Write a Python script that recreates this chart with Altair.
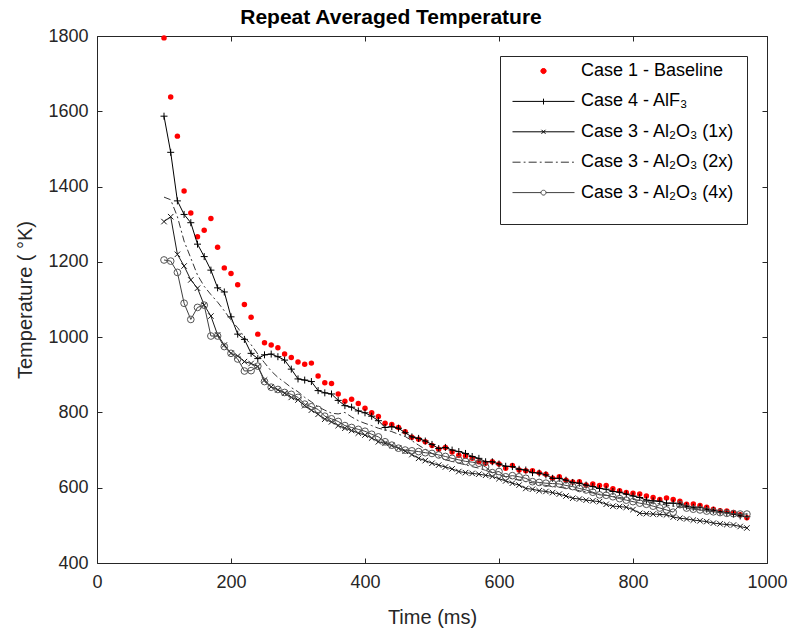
import altair as alt
import pandas as pd

times = [100, 110, 120, 130, 140, 150, 160, 170, 180, 190,
         200, 210, 220, 230, 240, 250, 260, 270, 280, 290,
         300, 310, 320, 330, 340, 350, 360, 370, 380, 390,
         400, 410, 420, 430, 440, 450, 460, 470, 480, 490,
         500, 510, 520, 530, 540, 550, 560, 570, 580, 590,
         600, 610, 620, 630, 640, 650, 660, 670, 680, 690,
         700, 710, 720, 730, 740, 750, 760, 770, 780, 790,
         800, 810, 820, 830, 840, 850, 860, 870, 880, 890,
         900, 910, 920, 930, 940, 950, 960, 970]

baseline = [1795, 1638, 1534, 1388, 1330, 1267, 1284, 1315, 1239, 1184,
            1169, 1139, 1087, 1053, 1008, 985, 979, 972, 955, 946,
            934, 928, 931, 897, 879, 877, 849, 830, 835, 824,
            811, 799, 789, 771, 768, 760, 749, 734, 729, 722,
            712, 702, 707, 695, 686, 684, 678, 669, 665, 669,
            663, 652, 659, 647, 645, 645, 640, 636, 625, 629,
            620, 615, 616, 607, 610, 606, 606, 597, 592, 587,
            585, 583, 578, 574, 569, 573, 569, 564, 556, 557,
            553, 548, 543, 539, 538, 534, 528, 520]

alf3 = [1587, 1491, 1362, 1326, 1304, 1247, 1214, 1178, 1131, 1120,
        1054, 1008, 994, 957, 943, 953, 955, 948, 939, 915,
        889, 886, 882, 858, 852, 849, 832, 818, 814, 804,
        799, 790, 778, 760, 762, 758, 746, 735, 731, 724,
        715, 704, 707, 700, 696, 691, 683, 678, 669, 669,
        663, 657, 656, 649, 647, 640, 639, 634, 625, 625,
        620, 614, 612, 607, 603, 598, 596, 590, 588, 583,
        578, 574, 567, 565, 564, 559, 559, 557, 551, 548,
        548, 543, 540, 536, 534, 530, 525, 523]

al2o3_1x = [1307, 1320, 1220, 1189, 1152, 1130, 1085, 1056, 1006, 979,
            957, 950, 935, 930, 922, 886, 868, 860, 851, 840,
            833, 818, 806, 795, 782, 775, 765, 758, 752, 745,
            740, 732, 722, 718, 712, 705, 697, 688, 678, 672,
            665, 660, 655, 650, 643, 640, 638, 636, 633, 630,
            624, 618, 612, 607, 598, 596, 592, 590, 587, 583,
            578, 572, 570, 567, 565, 563, 556, 551, 550, 548,
            542, 532, 531, 530, 529, 528, 522, 519, 517, 514,
            512, 510, 506, 504, 502, 501, 497, 493]

al2o3_2x = [1372, 1365, 1320, 1255, 1210, 1165, 1135, 1113, 1093, 1070,
            1045, 1025, 1000, 980, 955, 932, 910, 893, 880, 866,
            855, 840, 828, 815, 806, 798, 796, 800, 788, 778,
            771, 765, 758, 754, 749, 742, 736, 725, 713, 702,
            691, 682, 674, 670, 665, 661, 656, 652, 646, 640,
            634, 629, 624, 620, 616, 613, 610, 606, 603, 601,
            599, 596, 592, 589, 586, 583, 580, 577, 574, 571,
            569, 566, 563, 560, 557, 554, 551, 549, 547, 545,
            543, 540, 538, 536, 533, 531, 529, 527]

al2o3_4x = [1205, 1202, 1172, 1090, 1047, 1079, 1085, 1003, 1003, 975,
            957, 942, 910, 911, 923, 882, 867, 861, 853, 848,
            840, 822, 815, 808, 790, 783, 776, 765, 760, 755,
            750, 742, 735, 722, 713, 705, 700, 698, 696, 693,
            691, 687, 683, 678, 674, 670, 668, 665, 655, 640,
            643, 629, 632, 629, 625, 616, 614, 612, 611, 610,
            606, 603, 598, 594, 588, 581, 580, 576, 571, 567,
            563, 559, 556, 551, 546, 541, 535, 555, 546, 543,
            541, 538, 536, 534, 532, 531, 530, 530]

names = ["Case 1 - Baseline", "Case 4 - AlF\u2083", "Case 3 - Al\u2082O\u2083 (1x)",
         "Case 3 - Al\u2082O\u2083 (2x)", "Case 3 - Al\u2082O\u2083 (4x)"]

FONT = "Liberation Sans"
TXT = "#262626"


def frame(vals, name):
    return pd.DataFrame({"t": times, "temp": vals, "series": name})


d_base = frame(baseline, names[0])
d_alf = frame(alf3, names[1])
d_1x = frame(al2o3_1x, names[2])
d_2x = frame(al2o3_2x, names[3])
d_4x = frame(al2o3_4x, names[4])
d_all = pd.concat([d_base, d_alf, d_1x, d_2x, d_4x], ignore_index=True)

xscale = alt.Scale(domain=[0, 1000], nice=False, zero=False)
yscale = alt.Scale(domain=[400, 1800], nice=False, zero=False)

x_main = alt.X("t:Q", scale=xscale, axis=alt.Axis(
    values=[0, 200, 400, 600, 800, 1000], title="Time (ms)", offset=-5,
    tickSize=5, labelPadding=10, titlePadding=16, format="d", labelFlush=False))
y_main = alt.Y("temp:Q", scale=yscale, axis=alt.Axis(
    values=[400, 600, 800, 1000, 1200, 1400, 1600, 1800], title="Temperature ( \u00b0K)",
    offset=-5, tickSize=5, labelPadding=9, titlePadding=12, format="d", labelFlush=False))
x_plain = alt.X("t:Q", scale=xscale, axis=None)
y_plain = alt.Y("temp:Q", scale=yscale, axis=None)

PLUS = "M-1,0L1,0M0,-1L0,1"
CROSS = "M-1,-1L1,1M-1,1L1,-1"

base_pts = alt.Chart(d_base).mark_point(
    shape="circle", filled=True, color="#ff0000", size=30, opacity=1
).encode(x=x_main, y=y_main)

alf_line = alt.Chart(d_alf).mark_line(color="#000000", strokeWidth=1).encode(x=x_plain, y=y_plain)
alf_pts = alt.Chart(d_alf).mark_point(shape=PLUS, filled=False, color="#000000",
                                      size=49, strokeWidth=1, opacity=1).encode(x=x_plain, y=y_plain)

x1_line = alt.Chart(d_1x).mark_line(color="#1a1a1a", strokeWidth=1).encode(x=x_plain, y=y_plain)
x1_pts = alt.Chart(d_1x).mark_point(shape=CROSS, filled=False, color="#1a1a1a",
                                    size=30, strokeWidth=1, opacity=1).encode(x=x_plain, y=y_plain)

x2_line = alt.Chart(d_2x).mark_line(color="#333333", strokeWidth=1,
                                    strokeDash=[7, 3, 2, 3]).encode(x=x_plain, y=y_plain)

x4_line = alt.Chart(d_4x).mark_line(color="#404040", strokeWidth=1).encode(x=x_plain, y=y_plain)
x4_pts = alt.Chart(d_4x).mark_point(shape="circle", filled=False, color="#555555",
                                    size=45, strokeWidth=1, opacity=1).encode(x=x_plain, y=y_plain)

leg_paths = [
    "M-0.085,0A0.085,0.085,0,1,1,0.085,0A0.085,0.085,0,1,1,-0.085,0Z",
    "M-1,0L1,0M0,-0.1L0,0.1",
    "M-1,0L1,0M-0.065,-0.065L0.065,0.065M-0.065,0.065L0.065,-0.065",
    "M-1,0L-0.74,0M-0.64,0L-0.58,0M-0.48,0L-0.22,0M-0.12,0L-0.06,0M0.04,0L0.3,0M0.4,0L0.46,0M0.56,0L0.82,0M0.92,0L0.98,0",
    "M-1,0L-0.08,0M0.08,0L1,0M-0.08,0A0.08,0.08,0,1,1,0.08,0A0.08,0.08,0,1,1,-0.08,0Z",
]
leg_strokes = ["#ff0000", "#000000", "#000000", "#333333", "#404040"]
leg_fills = ["#ff0000", "transparent", "transparent", "transparent", "transparent"]

leg = alt.Legend(
    title=" " * 86, titleOrient="bottom", titleFontSize=10, titlePadding=0, titleLimit=600,
    orient="none", legendX=403, legendY=20,
    symbolSize=3844, symbolStrokeWidth=1, symbolOffset=0,
    labelFont=FONT, labelFontSize=18, labelColor="#000000", labelOffset=6, labelLimit=400,
    clipHeight=6, rowPadding=12.4, padding=12,
    strokeColor=TXT, fillColor="#ffffff",
)

legend_layer = alt.Chart(d_all).transform_filter("datum.t < 0").mark_point(
    filled=False, strokeWidth=1, opacity=1
).encode(
    x=alt.X("t:Q", scale=xscale, axis=alt.Axis(orient="top", labels=False, title=None,
                                                values=[0, 200, 400, 600, 800, 1000],
                                                offset=-5, tickSize=5)),
    y=alt.Y("temp:Q", scale=yscale, axis=alt.Axis(orient="right", labels=False, title=None,
                                                   values=[400, 600, 800, 1000, 1200, 1400, 1600, 1800],
                                                   offset=-5, tickSize=5)),
    shape=alt.Shape("series:N", scale=alt.Scale(domain=names, range=leg_paths), legend=leg),
    color=alt.Color("series:N", scale=alt.Scale(domain=names, range=leg_strokes), legend=leg),
    fill=alt.Fill("series:N", scale=alt.Scale(domain=names, range=leg_fills), legend=leg),
)

chart = alt.layer(
    base_pts, alf_line, alf_pts, x1_line, x1_pts, x2_line, x4_line, x4_pts, legend_layer
).resolve_axis(x="independent", y="independent").properties(
    width=670, height=527,
    title=alt.Title("Repeat Averaged Temperature", dx=-41, offset=-1, anchor="middle"),
    autosize=alt.AutoSizeParams(type="none"),
    padding={"left": 97, "top": 36, "right": 26, "bottom": 69},
).configure_view(
    stroke=TXT, strokeWidth=1
).configure_axis(
    labelFont=FONT, labelFontSize=18, labelColor=TXT,
    titleFont=FONT, titleFontSize=20, titleFontWeight="normal", titleColor=TXT,
    tickColor=TXT, grid=False, domain=False,
).configure_title(
    font=FONT, fontSize=21, fontWeight="bold", color="#000000"
)

chart.save("out.html", embed_options={"renderer": "svg", "actions": False})
